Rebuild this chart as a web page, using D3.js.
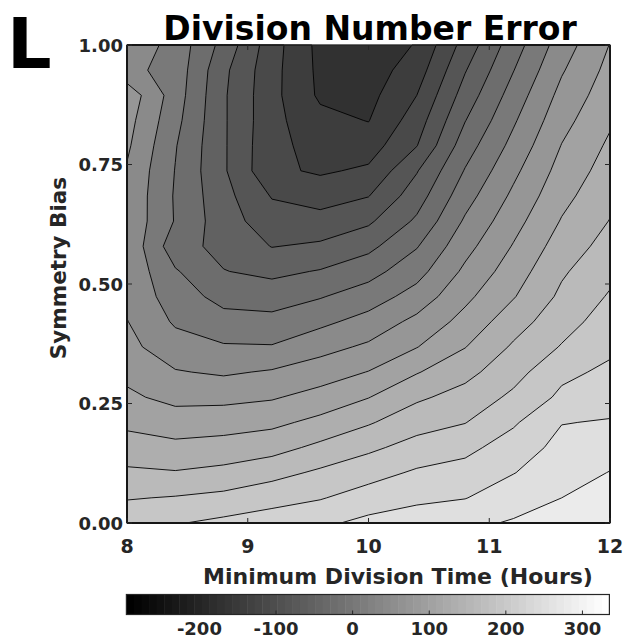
<!DOCTYPE html>
<html><head><meta charset="utf-8">
<script src="https://cdn.jsdelivr.net/npm/d3@7"></script>
<style>
body{margin:0;background:#fff}
text{font-family:"DejaVu Sans",sans-serif;font-weight:bold}
</style>
</head><body>
<svg id="chart" width="637" height="640"></svg>
<script>
// ---- data ----
const divisionTimes = [8, 8.4, 8.8, 9.2, 9.6, 10, 10.4, 10.8, 11.2, 11.6, 12];
const symmetryBias = [0, 0.0526, 0.1053, 0.1579, 0.2105, 0.2632, 0.3158, 0.3684, 0.4211, 0.4737,
  0.5263, 0.5789, 0.6316, 0.6842, 0.7368, 0.7895, 0.8421, 0.8947, 0.9474, 1];
// division number error, one row per symmetry bias value (bottom to top)
const errorRows = [
  [211, 218, 227, 235, 244, 258, 265, 273, 283, 294, 304],
  [188, 192, 198, 209, 218, 233, 244, 249, 266, 280, 292],
  [165, 162, 168, 180, 195, 209, 224, 231, 249, 267, 281],
  [144, 138, 142, 149, 167, 184, 201, 212, 234, 259, 267],
  [123, 114, 117, 123, 138, 157, 178, 189, 216, 249, 252],
  [105, 92, 92, 97, 111, 129, 155, 171, 196, 226, 239],
  [93, 72, 66, 73, 85, 101, 128, 151, 179, 213, 226],
  [78, 53, 43, 42, 60, 75, 99, 129, 164, 192, 214],
  [71, 36, 21, 19, 33, 51, 78, 110, 147, 178, 204],
  [63, 25, 0, -4, 8, 25, 52, 93, 128, 166, 193],
  [63, 13, -19, -27, -18, -1, 29, 76, 115, 156, 182],
  [64, -8, -29, -51, -45, -28, 8, 60, 102, 144, 171],
  [63, 8, -37, -66, -70, -55, -15, 44, 89, 132, 161],
  [64, 7, -40, -82, -92, -81, -34, 28, 76, 121, 152],
  [67, 9, -46, -104, -114, -105, -52, 12, 63, 111, 143],
  [75, 12, -46, -103, -119, -124, -81, -4, 49, 101, 135],
  [81, 19, -46, -101, -131, -141, -95, -21, 36, 90, 126],
  [89, 25, -46, -101, -145, -149, -110, -37, 23, 79, 117],
  [49, 28, -43, -100, -147, -155, -125, -52, 9, 67, 109],
  [62, 29, -30, -97, -149, -158, -138, -68, -4, 55, 101]
];
const contourLevels = [-140, -110, -80, -50, -20, 10, 40, 70, 100, 130, 160, 190, 220, 250, 280];
const fillFloor = -170;
const colorLimits = [-295.3, 335.2];
const xTicks = [8, 9, 10, 11, 12];
const yTicks = [0, 0.25, 0.5, 0.75, 1];
const colorbarTicks = [-200, -100, 0, 100, 200, 300];

// ---- layout ----
const svg = d3.select("#chart");
const plot = {left: 127, right: 610, top: 45, bottom: 523};
const x = d3.scaleLinear([8, 12], [plot.left, plot.right]);
const y = d3.scaleLinear([0, 1], [plot.bottom, plot.top]);
const axisColor = "#262626";

// MATLAB-like gray(64) colormap
const nColors = 64;
function grayOf(v) {
  let idx = Math.floor((v - colorLimits[0]) / (colorLimits[1] - colorLimits[0]) * nColors);
  idx = Math.max(0, Math.min(nColors - 1, idx));
  const g = Math.round(idx / (nColors - 1) * 255);
  return `rgb(${g},${g},${g})`;
}

// ---- contours ----
const nx = divisionTimes.length, ny = symmetryBias.length;
const values = [];
errorRows.forEach(r => r.forEach(v => values.push(v)));
const thresholds = [fillFloor, ...contourLevels];
const contours = d3.contours().size([nx, ny]).thresholds(thresholds)(values);

function lerpArr(arr, g) {
  const i = Math.max(0, Math.min(arr.length - 2, Math.floor(g)));
  const t = g - i;
  return arr[i] + (arr[i + 1] - arr[i]) * t;
}
const proj = d3.geoTransform({
  point(px, py) {
    const gx = Math.max(0, Math.min(nx - 1, px - 0.5));
    const gy = Math.max(0, Math.min(ny - 1, py - 0.5));
    this.stream.point(x(lerpArr(divisionTimes, gx)), y(lerpArr(symmetryBias, gy)));
  }
});
const path = d3.geoPath(proj);

const gPlot = svg.append("g");
gPlot.selectAll("path.fill").data(contours).join("path")
  .attr("class", "fill")
  .attr("d", path)
  .attr("fill", d => grayOf(d.value))
  .attr("stroke", d => grayOf(d.value))
  .attr("stroke-width", 0.3);
gPlot.selectAll("path.line").data(contours.filter(c => c.value !== fillFloor)).join("path")
  .attr("class", "line")
  .attr("d", path)
  .attr("fill", "none")
  .attr("stroke", "#000")
  .attr("stroke-width", 0.9)
  .attr("stroke-linejoin", "round");

// ---- axes box and ticks ----
svg.append("rect")
  .attr("x", plot.left).attr("y", plot.top)
  .attr("width", plot.right - plot.left).attr("height", plot.bottom - plot.top)
  .attr("fill", "none").attr("stroke", axisColor).attr("stroke-width", 1.2);

const tl = 5;
xTicks.forEach(t => {
  svg.append("line").attr("x1", x(t)).attr("x2", x(t)).attr("y1", plot.bottom).attr("y2", plot.bottom - tl)
    .attr("stroke", axisColor);
  svg.append("line").attr("x1", x(t)).attr("x2", x(t)).attr("y1", plot.top).attr("y2", plot.top + tl)
    .attr("stroke", axisColor);
  svg.append("text").attr("x", x(t)).attr("y", 552.5).attr("text-anchor", "middle")
    .attr("font-size", 19).attr("fill", axisColor).text(t);
});
yTicks.forEach(t => {
  svg.append("line").attr("x1", plot.left).attr("x2", plot.left + tl).attr("y1", y(t)).attr("y2", y(t))
    .attr("stroke", axisColor);
  svg.append("line").attr("x1", plot.right).attr("x2", plot.right - tl).attr("y1", y(t)).attr("y2", y(t))
    .attr("stroke", axisColor);
  svg.append("text").attr("x", 123).attr("y", y(t) + 6.5).attr("text-anchor", "end")
    .attr("font-size", 18).attr("fill", axisColor).text(t.toFixed(2));
});

svg.append("text").attr("x", 398).attr("y", 584).attr("text-anchor", "middle")
  .attr("font-size", 22).attr("fill", axisColor).text("Minimum Division Time (Hours)");
svg.append("text").attr("transform", "translate(66,268) rotate(-90)").attr("text-anchor", "middle")
  .attr("font-size", 21.5).attr("fill", axisColor).text("Symmetry Bias");
svg.append("text").attr("x", 370).attr("y", 40).attr("text-anchor", "middle")
  .attr("font-size", 33).attr("fill", "#000").text("Division Number Error");
svg.append("text").attr("x", 7).attr("y", 68).attr("font-size", 70).attr("fill", "#000").text("L");

// ---- colorbar ----
const cb = {left: 126.4, right: 609.4, top: 594.5, bottom: 614.5};
const cx = d3.scaleLinear(colorLimits, [cb.left, cb.right]);
const step = (colorLimits[1] - colorLimits[0]) / nColors;
const cbG = svg.append("g");
d3.range(nColors).forEach(i => {
  const v0 = colorLimits[0] + i * step;
  cbG.append("rect").attr("x", cx(v0)).attr("y", cb.top)
    .attr("width", cx(v0 + step) - cx(v0) + 0.5).attr("height", cb.bottom - cb.top)
    .attr("fill", grayOf(v0 + step / 2));
});
cbG.append("rect").attr("x", cb.left).attr("y", cb.top).attr("width", cb.right - cb.left)
  .attr("height", cb.bottom - cb.top).attr("fill", "none").attr("stroke", axisColor).attr("stroke-width", 1.2);
colorbarTicks.forEach(t => {
  cbG.append("line").attr("x1", cx(t)).attr("x2", cx(t)).attr("y1", cb.bottom).attr("y2", cb.bottom - 4)
    .attr("stroke", axisColor);
  cbG.append("text").attr("x", cx(t)).attr("y", 635).attr("text-anchor", "middle")
    .attr("font-size", 18).attr("fill", axisColor).text(t);
});
</script>
</body></html>
